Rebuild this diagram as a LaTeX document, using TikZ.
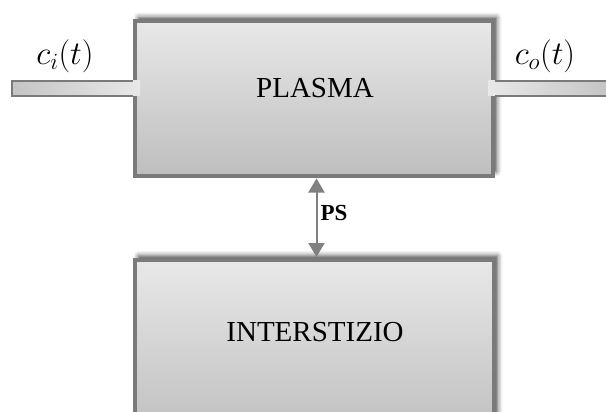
\RequirePackage{fix-cm}
\documentclass[tikz,border=0pt]{standalone}
\usepackage{fontspec}
\setmainfont{Liberation Serif}
\usetikzlibrary{arrows.meta,shadows.blur}
\definecolor{edgegray}{RGB}{122,122,122}
\definecolor{lightfill}{RGB}{232,232,232}
\definecolor{darkfill}{RGB}{190,190,190}
\definecolor{pipedark}{RGB}{196,196,196}
\definecolor{arrowgray}{RGB}{128,128,128}
\tikzset{
  blockbox/.style={draw=edgegray, line width=4pt, inner sep=0pt,
    top color=lightfill, middle color=lightfill, bottom color=darkfill,
    blur shadow={shadow xshift=3.5pt, shadow yshift=4pt, shadow blur radius=5pt, shadow opacity=75}},
  blocktext/.style={font=\fontsize{29}{34}\selectfont, inner sep=0pt},
  pipeedge/.style={draw=edgegray, line width=2pt},
  mathlabel/.style={font=\fontsize{33}{38}\selectfont, inner sep=0pt},
  link/.style={draw=arrowgray, line width=2pt, {Triangle[width=16pt,length=14pt]}-{Triangle[width=16pt,length=14pt]}},
  pslabel/.style={font=\fontsize{23}{27}\selectfont\bfseries, inner sep=0pt}
}
\begin{document}
\begin{tikzpicture}[x=1pt,y=-1pt]
\useasboundingbox (0,0) rectangle (606,412);
\clip (0,0) rectangle (606,412);
% boxes
\node[blockbox, minimum width=358pt, minimum height=154pt] (plasma) at (314,98.5) {};
\node[blockbox, minimum width=359pt, minimum height=180pt] (inter) at (314.5,350) {};
% input pipe
\coordinate (inTL) at (11.7,81);
\coordinate (inBL) at (11.7,96);
\coordinate (inTR) at (140,81);
\coordinate (inBR) at (140,96);
\shade[left color=pipedark, right color=lightfill] (inTL) rectangle (inBR);
\draw[pipeedge] (plasma.west |- inTR) -- (inTL) -- (inBL) -- (plasma.west |- inBR);
% output pipe
\coordinate (outTL) at (488,81);
\coordinate (outBL) at (488,96);
\coordinate (outTR) at (610,81);
\coordinate (outBR) at (610,96);
\shade[left color=lightfill, right color=pipedark] (outTL) rectangle (outBR);
\draw[pipeedge] (plasma.east |- outTL) -- (outTR);
\draw[pipeedge] (plasma.east |- outBL) -- (outBR);
% texts
\node[blocktext] (plasmatext) at (315,88) {PLASMA};
\node[blocktext] (intertext) at (315,332) {INTERSTIZIO};
\node[mathlabel] (cin) at (65,56) {$c_i(t)$};
\node[mathlabel] (cout) at (545,56) {$c_o(t)$};
% exchange arrow
\coordinate (top) at ([yshift=-1pt]plasma.south -| 316.5,0);
\coordinate (bot) at ([yshift=1pt]inter.north -| 316.5,0);
\draw[link] (top) -- (bot);
\node[pslabel] (ps) at (334,213) {PS};
\end{tikzpicture}
\end{document}
